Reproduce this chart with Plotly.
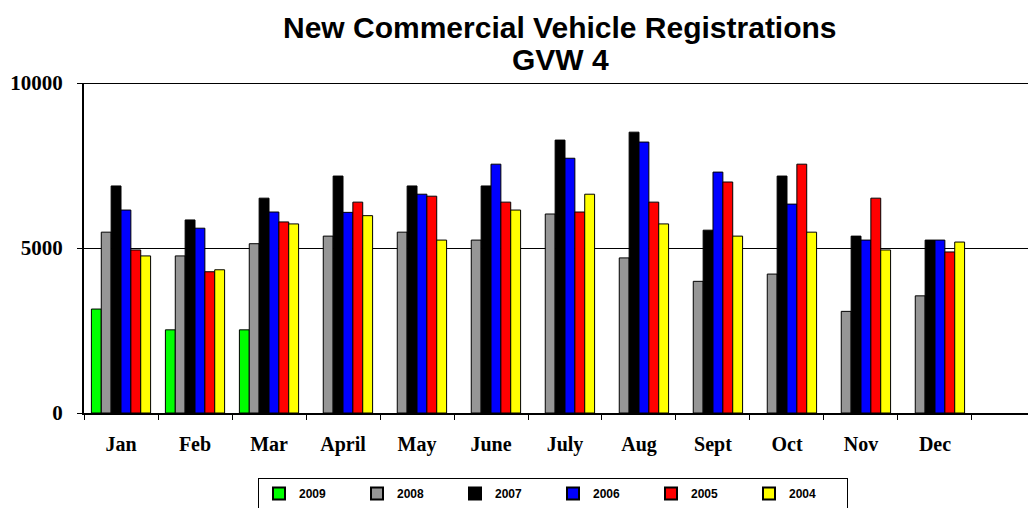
import plotly.graph_objects as go

months = ["Jan", "Feb", "Mar", "April", "May", "June", "July", "Aug", "Sept", "Oct", "Nov", "Dec"]
series_names = ["2009", "2008", "2007", "2006", "2005", "2004"]
colors = ["#00FF00", "#969696", "#000000", "#0000FF", "#FF0000", "#FFFF00"]

v2009 = [3150, 2520, 2520, None, None, None, None, None, None, None, None, None]
v2008 = [5480, 4760, 5130, 5360, 5480, 5240, 6030, 4700, 3990, 4210, 3080, 3550]
v2007 = [6880, 5850, 6510, 7180, 6880, 6880, 8270, 8510, 5540, 7180, 5360, 5240]
v2006 = [6150, 5600, 6090, 6080, 6630, 7540, 7720, 8210, 7300, 6330, 5240, 5240]
v2005 = [4940, 4280, 5790, 6390, 6570, 6390, 6090, 6390, 7000, 7540, 6510, 4880]
v2004 = [4760, 4340, 5730, 5980, 5240, 6150, 6630, 5730, 5360, 5480, 4940, 5180]
values = [v2009, v2008, v2007, v2006, v2005, v2004]

y_ticks = [0, 5000, 10000]
title_lines = ["New Commercial Vehicle Registrations", "GVW 4"]

fig = go.Figure()
for name, col, vals in zip(series_names, colors, values):
    fig.add_trace(go.Bar(
        x=months, y=vals, name=name,
        marker=dict(color=col, line=dict(color="#000000", width=1)),
    ))

# page body has an 8px default margin, so the figure is sized to fill the rest
OFF = 8
W, H = 1036 - OFF, 508 - OFF
L, T, B = 84 - OFF, 83 - OFF, 508 - 413
PH = H - T - B
PW = W - L

def px_x(x):
    return (x - OFF - L) / PW

def px_y(y):
    return 1 - (y - OFF - T) / PH

fig.update_layout(
    width=W, height=H,
    margin=dict(l=L, r=0, t=T, b=B, autoexpand=False),
    paper_bgcolor="white", plot_bgcolor="white",
    barmode="group", bargap=0.2, bargroupgap=0,
    showlegend=True,
    legend=dict(
        orientation="h", xref="container", yref="container",
        x=(553 - OFF) / W, xanchor="center", y=1 - (478 - OFF) / H, yanchor="top",
        bordercolor="black", borderwidth=1,
        font=dict(family="Liberation Sans, Arial", size=12, color="black", weight="bold"),
        entrywidth=53, entrywidthmode="pixels",
        traceorder="normal", itemsizing="constant",
    ),
    xaxis=dict(
        type="category", categoryorder="array", categoryarray=months,
        range=[-0.5, 12.365], automargin=False,
        showline=True, linecolor="black", linewidth=2,
        ticks="outside", tickson="boundaries", ticklen=5, tickcolor="black", tickwidth=1,
        tickfont=dict(family="Liberation Serif, Times New Roman", size=20, color="black", weight="bold"),
        ticklabelstandoff=12,
        showgrid=False,
    ),
    yaxis=dict(
        range=[0, 10000], tickvals=y_ticks, ticktext=[str(t) for t in y_ticks],
        automargin=False,
        showline=True, linecolor="black", linewidth=2,
        ticks="outside", ticklen=5, tickcolor="black", tickwidth=1,
        tickfont=dict(family="Liberation Serif, Times New Roman", size=21, color="black", weight="bold"),
        ticklabelstandoff=10,
        showgrid=True, gridcolor="black", gridwidth=1,
        zeroline=False,
    ),
)

fig.add_annotation(text="<b>" + title_lines[0] + "</b>", xref="paper", yref="paper",
                   x=px_x(560), y=px_y(28),
                   xanchor="center", yanchor="middle", showarrow=False,
                   font=dict(family="Liberation Sans, Arial", size=30, color="black"))
fig.add_annotation(text="<b>" + title_lines[1] + "</b>", xref="paper", yref="paper",
                   x=px_x(560), y=px_y(60),
                   xanchor="center", yanchor="middle", showarrow=False,
                   font=dict(family="Liberation Sans, Arial", size=30, color="black"))

fig.add_shape(type="line", xref="paper", yref="y", x0=0, x1=1, y0=10000, y1=10000,
              line=dict(color="black", width=2), layer="above")

fig.write_html("out.html")
